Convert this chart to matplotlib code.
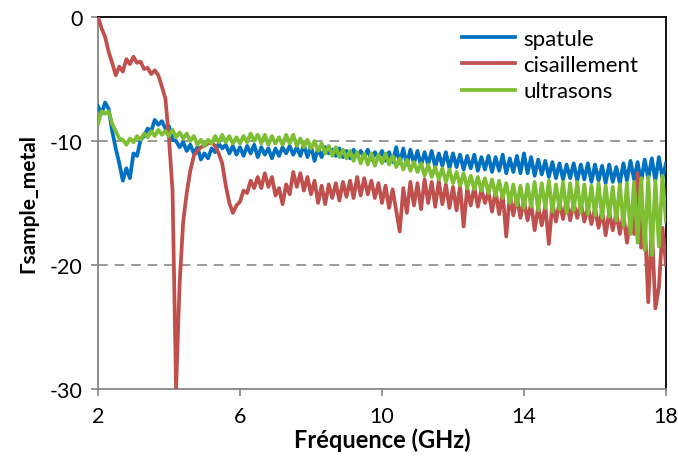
import numpy as np
import matplotlib
matplotlib.use("Agg")
import matplotlib.pyplot as plt

plt.rcParams["font.family"] = ["Lato", "DejaVu Sans"]
plt.rcParams["axes.unicode_minus"] = False

# grille de frequence (GHz), pas de 0.1
freq = np.round(np.linspace(2.0, 18.0, 161), 1)

spatule = [
    -7.2, -7.8, -6.9, -7.4, -9.2, -10.6, -11.8, -13.2, -12.2, -13.0,
    -11.0, -11.2, -9.9, -9.6, -9.0, -9.2, -8.3, -8.7, -8.4, -9.0,
    -8.8, -9.9, -10.0, -10.5, -10.1, -10.8, -10.3, -11.0, -10.5, -11.5,
    -11.0, -11.4, -10.6, -10.9, -10.2, -10.6, -10.3, -11.0, -10.4, -11.1,
    -10.5, -11.2, -10.4, -11.0, -10.3, -11.3, -10.5, -11.1, -10.6, -11.4,
    -10.6, -11.2, -10.5, -11.0, -10.4, -11.1, -10.5, -11.2, -10.3, -11.3,
    -10.4, -11.6, -10.6, -11.3, -10.5, -11.0, -10.7, -11.2, -10.6, -11.3,
    -10.8, -11.4, -10.7, -11.2, -10.8, -11.3, -10.7, -11.5, -10.9, -11.4,
    -10.8, -11.6, -10.9, -11.7, -10.5, -11.8, -10.6, -11.9, -10.7, -11.8,
    -10.8, -12.0, -10.9, -11.9, -10.8, -12.1, -11.0, -12.0, -10.9, -12.2,
    -11.0, -12.1, -11.1, -12.3, -11.2, -12.2, -11.1, -12.4, -11.3, -12.3,
    -11.2, -12.5, -11.3, -12.4, -11.1, -12.6, -11.4, -12.5, -11.2, -12.6,
    -11.0, -12.6, -11.3, -12.8, -11.5, -12.7, -11.6, -12.9, -11.7, -13.0,
    -11.8, -13.1, -11.9, -13.0, -11.8, -13.2, -11.9, -13.1, -11.8, -13.3,
    -11.9, -13.2, -12.0, -13.4, -11.9, -13.3, -12.1, -13.4, -11.8, -13.2,
    -11.6, -13.1, -11.7, -13.3, -11.5, -13.0, -11.4, -13.2, -11.3, -13.0,
    -11.8,
]

cisaillement = [
    0.0, -0.9, -1.6, -2.8, -3.7, -4.7, -4.0, -4.4, -3.4, -3.8,
    -3.2, -3.7, -3.6, -4.2, -4.1, -4.6, -4.3, -4.7, -5.6, -6.6,
    -9.8, -14.0, -30.0, -21.5, -16.5, -14.2, -12.4, -11.2, -10.8, -10.5,
    -10.4, -10.2, -10.1, -10.4, -11.0, -11.8, -13.6, -15.0, -15.8, -15.2,
    -14.9, -14.0, -14.2, -13.2, -13.8, -12.9, -13.8, -12.6, -13.7, -12.9,
    -14.4, -13.8, -15.1, -13.5, -14.3, -12.5, -13.7, -12.6, -14.0, -12.9,
    -14.3, -13.2, -15.0, -13.6, -15.1, -13.5, -14.6, -13.4, -14.8, -13.3,
    -14.5, -13.2, -14.6, -12.9, -14.4, -13.0, -14.3, -13.2, -14.6, -13.4,
    -15.0, -13.6, -15.4, -13.9, -15.6, -17.3, -13.8, -15.8, -13.3, -15.2,
    -13.4, -15.5, -13.1, -15.0, -13.3, -15.3, -13.2, -15.1, -13.5, -15.4,
    -13.7, -15.6, -13.6, -16.9, -13.8, -15.2, -13.7, -15.3, -13.9, -15.0,
    -14.1, -15.7, -14.0, -15.9, -14.2, -17.7, -14.3, -16.0, -14.5, -16.2,
    -14.8, -16.4, -15.0, -17.2, -15.3, -16.8, -15.2, -18.3, -15.0, -16.5,
    -14.9, -16.3, -14.8, -16.4, -15.0, -16.2, -15.0, -16.5, -15.3, -16.7,
    -15.4, -17.0, -15.6, -17.6, -15.7, -17.2, -15.8, -17.5, -15.9, -18.2,
    -16.2, -17.5, -12.6, -18.6, -16.4, -23.0, -16.8, -23.5, -21.8, -17.0,
    -20.0,
]

ultrasons = [
    -8.6, -7.6, -7.8, -7.6, -8.6, -9.2, -9.8, -9.9, -10.3, -9.8,
    -10.1, -9.6, -9.9, -9.4, -9.7, -9.2, -9.6, -9.1, -9.5, -9.2,
    -9.6, -9.1, -9.7, -9.3, -9.8, -9.4, -10.0, -9.6, -10.3, -9.9,
    -10.4, -9.9, -10.2, -9.6, -10.1, -9.5, -10.1, -9.6, -10.2, -9.7,
    -10.2, -9.6, -10.1, -9.4, -10.0, -9.5, -10.2, -9.5, -10.3, -9.6,
    -10.2, -9.7, -10.3, -9.5, -10.2, -9.5, -10.4, -9.8, -10.5, -9.9,
    -10.6, -10.0, -10.8, -10.2, -11.0, -10.4, -11.2, -10.5, -11.3, -10.7,
    -11.4, -10.8, -11.6, -10.9, -11.8, -11.0, -11.9, -11.0, -12.0, -11.1,
    -11.8, -11.0, -11.9, -11.2, -12.1, -11.4, -12.3, -11.5, -12.4, -11.7,
    -12.5, -11.8, -12.8, -11.9, -12.9, -12.1, -13.1, -12.2, -13.3, -12.3,
    -13.4, -12.5, -13.6, -12.6, -13.8, -12.8, -13.9, -12.9, -14.0, -13.0,
    -14.2, -13.1, -14.4, -13.2, -14.6, -13.4, -15.0, -13.5, -15.2, -13.6,
    -15.4, -13.5, -15.3, -13.3, -15.6, -13.4, -15.4, -13.2, -15.7, -13.5,
    -15.5, -13.3, -15.8, -13.4, -15.6, -13.3, -15.8, -13.5, -15.9, -13.6,
    -16.0, -13.4, -16.2, -13.6, -16.1, -13.7, -16.4, -13.5, -16.8, -13.4,
    -17.5, -13.3, -18.2, -13.0, -18.8, -12.9, -19.2, -13.2, -18.5, -12.8,
    -16.5,
]

series = [
    ("spatule", spatule, "#0070C0"),
    ("cisaillement", cisaillement, "#C0504D"),
    ("ultrasons", ultrasons, "#7DBE33"),
]

x_ticks = [2, 6, 10, 14, 18]
y_ticks = [0, -10, -20, -30]

fig = plt.figure(figsize=(6.78, 4.64), dpi=100)
ax = fig.add_axes([0.1445, 0.1595, 0.8378, 0.8017])

# trait epais pour rendre la bande de bruit des mesures
for i, (name, values, color) in enumerate(series):
    ax.plot(freq, values, color=color, linewidth=2.7, label=name, zorder=3 + i)

ax.set_xlim(2, 18)
ax.set_ylim(-30, 0)
ax.set_xticks(x_ticks)
ax.set_yticks(y_ticks)

for y in (-10, -20):
    ax.axhline(y, color="#9a9a9a", linewidth=1.4, dashes=(5, 3.5), zorder=1)

gray = "#868686"
ax.spines["left"].set_color(gray)
ax.spines["bottom"].set_color(gray)
ax.spines["left"].set_linewidth(1.3)
ax.spines["bottom"].set_linewidth(1.3)
ax.spines["top"].set_color("black")
ax.spines["right"].set_color("black")
ax.spines["top"].set_linewidth(1.3)
ax.spines["right"].set_linewidth(1.3)
ax.tick_params(axis="both", direction="out", length=5, width=1.2, color=gray,
               labelsize=15.5, labelcolor="black")
ax.tick_params(axis="x", pad=7)
ax.tick_params(axis="y", pad=6)

ax.set_xlabel("Fréquence (GHz)", fontsize=17, fontweight="bold", labelpad=1)
ax.set_ylabel("Γsample_metal", fontsize=15, fontweight="bold", labelpad=8)

leg = ax.legend(loc="upper left", bbox_to_anchor=(0.641, 0.968), frameon=False,
                fontsize=16, handlelength=2.4, handletextpad=0.35,
                labelspacing=0.28, borderpad=0, borderaxespad=0)
for line in leg.get_lines():
    line.set_linewidth(2.7)

fig.savefig("out.png", dpi=100)
